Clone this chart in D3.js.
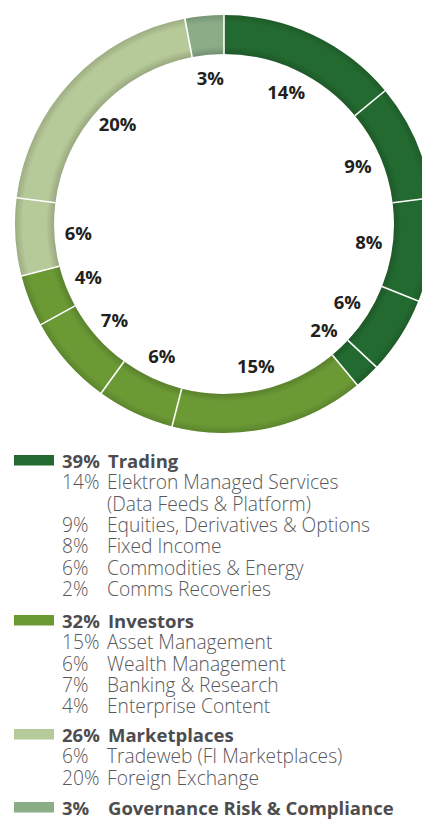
<!DOCTYPE html>
<html>
<head>
<meta charset="utf-8">
<script src="https://cdn.jsdelivr.net/npm/d3@7"></script>
<style>
  html, body { margin: 0; padding: 0; background: #fff; }
  svg { display: block; font-family: "Open Sans", sans-serif; }
</style>
</head>
<body>
<div id="chart"></div>
<script>
// segments, clockwise from 12 o'clock
const groups = ["Trading", "Investors", "Marketplaces", "Governance Risk & Compliance"];
const groupShares = [39, 32, 26, 3];
const groupColors = ["#236a30", "#6b9a35", "#b6c998", "#8aad88"];

const segGroup = [0, 0, 0, 0, 0, 1, 1, 1, 1, 2, 2, 3];
const segValues = [14, 9, 8, 6, 2, 15, 6, 7, 4, 6, 20, 3];

// legend sub-items (label lines per group)
const items = [
  [["14%", "Elektron Managed Services"], ["", "(Data Feeds & Platform)"], ["9%", "Equities, Derivatives & Options"],
   ["8%", "Fixed Income"], ["6%", "Commodities & Energy"], ["2%", "Comms Recoveries"]],
  [["15%", "Asset Management"], ["6%", "Wealth Management"], ["7%", "Banking & Research"], ["4%", "Enterprise Content"]],
  [["6%", "Tradeweb (FI Marketplaces)"], ["20%", "Foreign Exchange"]],
  []
];

const W = 422, H = 821;
const cx = 224, cy = 224, outerR = 209, innerR = 170, labelR = 146;

const svg = d3.select("#chart").append("svg")
  .attr("width", W).attr("height", H);

// radial shade, in the donut group's own coordinates
const grad = svg.append("defs").append("radialGradient")
  .attr("id", "ringShade")
  .attr("gradientUnits", "userSpaceOnUse")
  .attr("cx", 0).attr("cy", 0).attr("r", outerR);
[[innerR / outerR, 0.16], [(innerR + 8) / outerR, 0], [(outerR - 8) / outerR, 0], [1, 0.14]]
  .forEach(([o, a]) => grad.append("stop").attr("offset", o).attr("stop-color", "#000").attr("stop-opacity", a));

const pie = d3.pie().sort(null).value(d => d);
const arcs = pie(segValues);
const arc = d3.arc().innerRadius(innerR).outerRadius(outerR);
const labelArc = d3.arc().innerRadius(labelR).outerRadius(labelR);

const g = svg.append("g").attr("transform", `translate(${cx},${cy})`);

g.selectAll("path.seg")
  .data(arcs)
  .enter().append("path")
  .attr("class", "seg")
  .attr("d", arc)
  .attr("fill", (d, i) => groupColors[segGroup[i]]);

// soft edge shading
g.append("path")
  .attr("d", arc({ startAngle: 0, endAngle: 2 * Math.PI }))
  .attr("fill", "url(#ringShade)");

// white separators
g.selectAll("line.sep")
  .data(arcs)
  .enter().append("line")
  .attr("x1", d => innerR * Math.sin(d.startAngle))
  .attr("y1", d => -innerR * Math.cos(d.startAngle))
  .attr("x2", d => (outerR + 2) * Math.sin(d.startAngle))
  .attr("y2", d => -(outerR + 2) * Math.cos(d.startAngle))
  .attr("stroke", "#fff")
  .attr("stroke-width", 1.6);

g.selectAll("text.pct")
  .data(arcs)
  .enter().append("text")
  .attr("class", "pct")
  .attr("transform", d => `translate(${labelArc.centroid(d)})`)
  .attr("text-anchor", "middle")
  .attr("dy", "0.36em")
  .attr("font-size", 18.5)
  .attr("font-weight", 700)
  .attr("fill", "#231f20")
  .text(d => d.data + "%");

// legend
const headBase = [468, 628, 742, 815];
const lineH = 21.3;
const xSw = 14, xNum = 62, xTxt = 107;

groups.forEach((name, gi) => {
  const y0 = headBase[gi];
  svg.append("rect")
    .attr("x", xSw).attr("y", y0 - 13).attr("width", 40).attr("height", 10.5)
    .attr("fill", groupColors[gi]);
  svg.append("text")
    .attr("x", xNum).attr("y", y0)
    .attr("font-size", 18.5).attr("font-weight", 700).attr("fill", "#4d4d4f")
    .text(groupShares[gi] + "%");
  svg.append("text")
    .attr("x", xTxt + 1).attr("y", y0)
    .attr("font-size", 18.5).attr("font-weight", 700).attr("fill", "#4d4d4f")
    .text(name);
  items[gi].forEach((it, k) => {
    const y = y0 + lineH * (k + 1);
    svg.append("text")
      .attr("x", xNum).attr("y", y)
      .attr("font-size", 19.2).attr("font-weight", 300).attr("fill", "#58585a")
      .text(it[0]);
    svg.append("text")
      .attr("x", xTxt).attr("y", y)
      .attr("font-size", 19.2).attr("font-weight", 300).attr("fill", "#58585a")
      .text(it[1]);
  });
});
</script>
</body>
</html>
